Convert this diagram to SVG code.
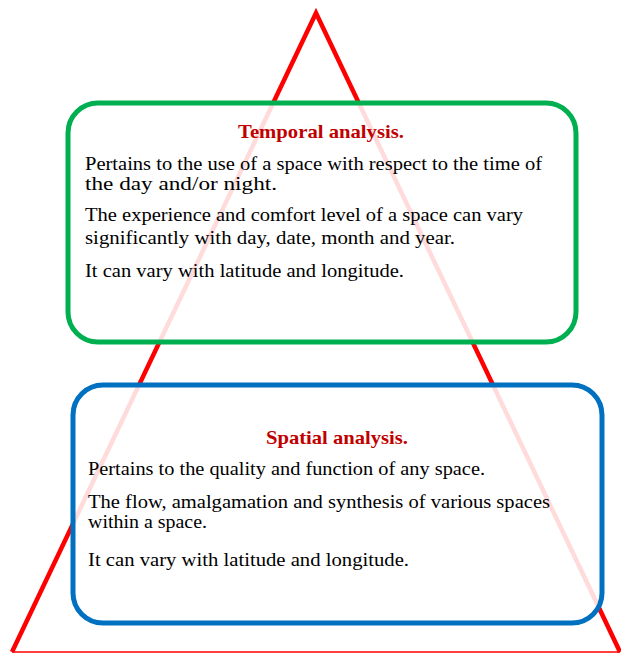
<svg xmlns="http://www.w3.org/2000/svg" width="621" height="654" viewBox="0 0 621 654">
<style>
.tri{fill:none;stroke:#ff0000;stroke-width:4.5;stroke-linejoin:miter}
.base{stroke:#ff0000;stroke-width:1.5}
.box{fill:#ffffff;fill-opacity:0.86;stroke-width:5}
.title{font-family:"Liberation Serif",serif;font-weight:bold;font-size:19px;fill:#c00000;text-anchor:middle}
.body{font-family:"Liberation Serif",serif;font-size:19px;fill:#000000}
</style>
<rect width="621" height="654" fill="#ffffff"/>
<g id="triangle">
<polyline class="tri" points="12,652 316,13 620,652"/>
<line class="base" x1="12" y1="652" x2="620" y2="652"/>
</g>
<g id="connectors"></g>
<g id="temporal">
<rect class="box" x="68" y="103" width="508" height="239" rx="30" ry="30" stroke="#00b050"/>
<text class="title" x="321" y="138" textLength="166" lengthAdjust="spacingAndGlyphs">Temporal analysis.</text>
<text class="body" x="85" y="170" textLength="457" lengthAdjust="spacingAndGlyphs">Pertains to the use of a space  with respect  to the time of</text>
<text class="body" x="85" y="190" textLength="192" lengthAdjust="spacingAndGlyphs">the day and/or night.</text>
<text class="body" x="85" y="221" textLength="438" lengthAdjust="spacingAndGlyphs">The experience  and  comfort level of a space can vary</text>
<text class="body" x="85" y="244" textLength="370" lengthAdjust="spacingAndGlyphs">significantly with day, date, month and year.</text>
<text class="body" x="85" y="277" textLength="319" lengthAdjust="spacingAndGlyphs">It can vary with latitude and longitude.</text>
</g>
<g id="spatial">
<rect class="box" x="73" y="385" width="529" height="238" rx="30" ry="30" stroke="#0070c0"/>
<text class="title" x="337" y="444" textLength="142" lengthAdjust="spacingAndGlyphs">Spatial analysis.</text>
<text class="body" x="88" y="475" textLength="397" lengthAdjust="spacingAndGlyphs">Pertains to the quality and function of any space.</text>
<text class="body" x="88" y="508" textLength="462" lengthAdjust="spacingAndGlyphs">The flow, amalgamation  and synthesis of various spaces</text>
<text class="body" x="88" y="528" textLength="119" lengthAdjust="spacingAndGlyphs">within a space.</text>
<text class="body" x="88" y="566" textLength="321" lengthAdjust="spacingAndGlyphs">It can vary with latitude and longitude.</text>
</g>
</svg>
